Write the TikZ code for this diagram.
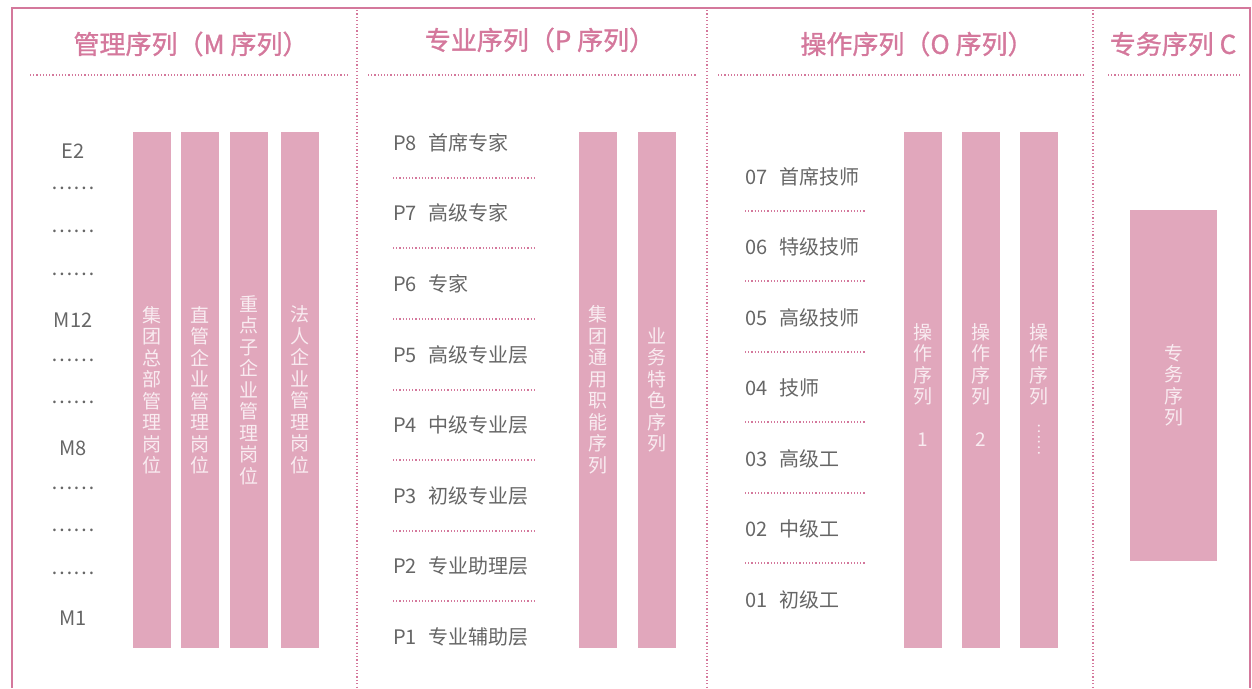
\documentclass[tikz,border=0pt]{standalone}
\usepackage{fontspec}
\setmainfont{Noto Sans CJK SC}
\newfontfamily\headfont{Noto Sans CJK SC}[FakeBold=1.2]
\definecolor{framepink}{HTML}{D4789C}
\definecolor{barpink}{HTML}{E1A7BC}
\definecolor{bartext}{HTML}{F9ECF1}
\definecolor{labelgray}{HTML}{666666}
\tikzset{
  frameline/.style={framepink, line width=2.5pt},
  sepline/.style={framepink, line width=1.6pt, dash pattern=on 1.2pt off 2.2pt},
  rowline/.style={framepink, line width=1.4pt, dash pattern=on 1.2pt off 2pt},
  header/.style={text=framepink, inner sep=0pt, font=\headfont\fontsize{26}{30}\selectfont},
  level/.style={text=labelgray, inner sep=0pt, font=\fontsize{20}{24}\selectfont},
  bar/.style={fill=barpink, draw=none, text=bartext, align=center, inner sep=0pt,
    minimum width=38pt, font=\fontsize{19}{21.5}\selectfont},
}
\begin{document}
\begin{tikzpicture}[x=1pt,y=-1pt]
 \useasboundingbox (0,0) rectangle (1252,688);
 % outer frame and column separators
 \draw[frameline] (12,688) -- (12,8) -- (1250,8) -- (1250,688);
 \draw[sepline] (357,10) -- (357,688);
 \draw[sepline] (707,10) -- (707,688);
 \draw[sepline] (1093,10) -- (1093,688);
 % headers
 \node[header] (hm) at (191,44) {管理序列（M 序列）};
 \node[header] (hp) at (540,40) {专业序列（P 序列）};
 \node[header] (ho) at (917,44) {操作序列（O 序列）};
 \node[header] (hc) at (1173,44) {专务序列 C};
 \draw[rowline] (30,75) -- (347,75);
 \draw[rowline] (368,75) -- (697,75);
 \draw[rowline] (718,75) -- (1083,75);
 \draw[rowline] (1108,75) -- (1240,75);
 % M column
 \node[level] (e2) at (73,151) {E2};
 \node[level] (d1) at (73,188) {……};
 \node[level] (d2) at (73,231) {……};
 \node[level] (d3) at (73,274) {……};
 \node[level] (m12) at (73,320) {M12};
 \node[level] (d4) at (73,360) {……};
 \node[level] (d5) at (73,402) {……};
 \node[level] (m8) at (73,448) {M8};
 \node[level] (d6) at (73,488) {……};
 \node[level] (d7) at (73,530) {……};
 \node[level] (d8) at (73,573) {……};
 \node[level] (m1) at (73,618) {M1};
 \node[bar, minimum height=516pt] (mbar1) at (152,390) {集\\团\\总\\部\\管\\理\\岗\\位};
 \node[bar, minimum height=516pt] (mbar2) at (200,390) {直\\管\\企\\业\\管\\理\\岗\\位};
 \node[bar, minimum height=516pt] (mbar3) at (249,390) {重\\点\\子\\企\\业\\管\\理\\岗\\位};
 \node[bar, minimum height=516pt] (mbar4) at (300,390) {法\\人\\企\\业\\管\\理\\岗\\位};
 % P column
 \node[level, anchor=west] (p8) at (393,143) {P8\hspace{12pt}首席专家};
 \node[level, anchor=west] (p7) at (393,213) {P7\hspace{12pt}高级专家};
 \node[level, anchor=west] (p6) at (393,284) {P6\hspace{12pt}专家};
 \node[level, anchor=west] (p5) at (393,355) {P5\hspace{12pt}高级专业层};
 \node[level, anchor=west] (p4) at (393,425) {P4\hspace{12pt}中级专业层};
 \node[level, anchor=west] (p3) at (393,496) {P3\hspace{12pt}初级专业层};
 \node[level, anchor=west] (p2) at (393,566) {P2\hspace{12pt}专业助理层};
 \node[level, anchor=west] (p1) at (393,637) {P1\hspace{12pt}专业辅助层};
 \foreach \y in {178,248,319,390,460,531,601}
   \draw[rowline] (393,\y) -- (536,\y);
 \node[bar, minimum height=516pt] (pbar1) at (598,390) {集\\团\\通\\用\\职\\能\\序\\列};
 \node[bar, minimum height=516pt] (pbar2) at (657,390) {业\\务\\特\\色\\序\\列};
 % O column
 \node[level, anchor=west] (o7) at (745,177) {07\hspace{12pt}首席技师};
 \node[level, anchor=west] (o6) at (745,247) {06\hspace{12pt}特级技师};
 \node[level, anchor=west] (o5) at (745,318) {05\hspace{12pt}高级技师};
 \node[level, anchor=west] (o4) at (745,388) {04\hspace{12pt}技师};
 \node[level, anchor=west] (o3) at (745,459) {03\hspace{12pt}高级工};
 \node[level, anchor=west] (o2) at (745,529) {02\hspace{12pt}中级工};
 \node[level, anchor=west] (o1) at (745,600) {01\hspace{12pt}初级工};
 \foreach \y in {211,281,352,422,493,563}
   \draw[rowline] (745,\y) -- (866,\y);
 \node[bar, minimum height=516pt] (obar1) at (923,390) {};
 \node[bar, minimum height=516pt] (obar2) at (981,390) {};
 \node[bar, minimum height=516pt] (obar3) at (1039,390) {};
 \node[bar] (ot1) at (923,385) {操\\作\\序\\列\\ \\1};
 \node[bar] (ot2) at (981,385) {操\\作\\序\\列\\ \\2};
 \node[bar] (ot3) at (1039,385) {操\\作\\序\\列\\ \\\phantom{1}};
 \node[bar, fill=none, font=\fontsize{15}{15}\selectfont] (ot3dots) at (1039,439) {\rotatebox{-90}{……}};
 % C column
 \node[bar, minimum width=87pt, minimum height=351pt] (cbar) at (1173.5,385.5) {专\\务\\序\\列};
\end{tikzpicture}
\end{document}
